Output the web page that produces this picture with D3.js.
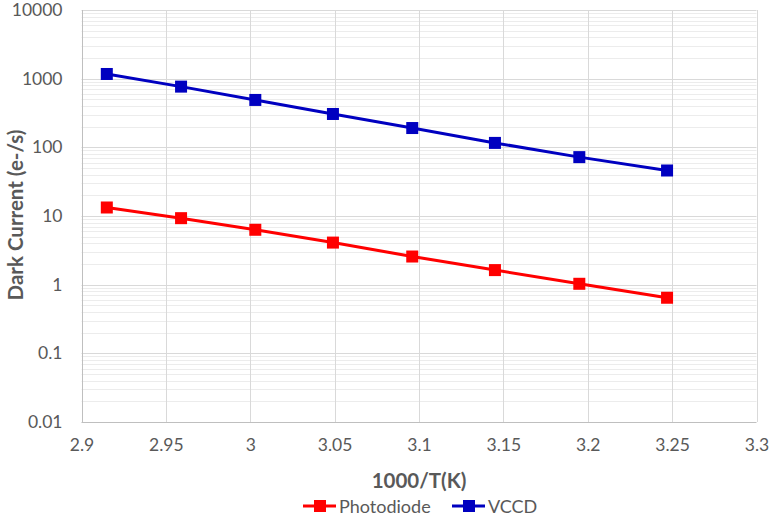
<!DOCTYPE html>
<html><head><meta charset="utf-8">
<script src="https://cdn.jsdelivr.net/npm/d3@7"></script>
<style>body{margin:0;background:#fff}svg{display:block}text{font-family:Lato,"Open Sans",sans-serif}</style>
</head><body><svg id="c" width="774" height="523"></svg>
<script>
const xValues = [2.915, 2.959, 3.003, 3.049, 3.096, 3.145, 3.195, 3.247];
const photodiode = [13.3, 9.3, 6.3, 4.1, 2.57, 1.63, 1.03, 0.645];
const vccd = [1170, 766, 490, 306, 191, 116, 72, 46];
const xTicks = [2.9, 2.95, 3, 3.05, 3.1, 3.15, 3.2, 3.25, 3.3];
const yTicks = [0.01, 0.1, 1, 10, 100, 1000, 10000];
const seriesNames = ["Photodiode", "VCCD"];
const seriesColors = ["#FF0000", "#0000C0"];

const svg = d3.select("#c");
const L = 81.5, R = 756.5, T = 10, B = 422;
const x = d3.scaleLinear().domain([2.9, 3.3]).range([L, R]);
const y = d3.scaleLog().domain([0.01, 10000]).range([B, T]);

// minor gridlines
const minors = [];
yTicks.slice(0, -1).forEach(d => { for (let k = 2; k <= 9; k++) minors.push(d * k); });
svg.append("g").selectAll("line").data(minors).join("line")
  .attr("x1", L).attr("x2", R).attr("y1", d => Math.round(y(d)) + 0.5).attr("y2", d => Math.round(y(d)) + 0.5)
  .attr("stroke", "#ececec").attr("stroke-width", 1);
// major gridlines
svg.append("g").selectAll("line").data(yTicks).join("line")
  .attr("x1", L).attr("x2", R).attr("y1", d => Math.round(y(d)) + 0.5).attr("y2", d => Math.round(y(d)) + 0.5)
  .attr("stroke", d => d === 0.01 ? "#bfbfbf" : "#d9d9d9").attr("stroke-width", 1);
svg.append("g").selectAll("line").data(xTicks).join("line")
  .attr("x1", d => Math.round(x(d)) + 0.5).attr("x2", d => Math.round(x(d)) + 0.5).attr("y1", T).attr("y2", B)
  .attr("stroke", d => d === 2.9 ? "#bfbfbf" : "#d9d9d9").attr("stroke-width", 1);

const tickFont = 17.5;
const ya = svg.append("g").attr("transform", `translate(${L},0)`)
  .call(d3.axisLeft(y).tickValues(yTicks).tickFormat(d => String(d)).tickSize(0).tickPadding(19));
ya.select(".domain").remove();
ya.selectAll("text").attr("font-size", tickFont).attr("fill", "#595959").style("font-family", "Lato, 'Open Sans', sans-serif");

const xa = svg.append("g").attr("transform", `translate(0,${B})`)
  .call(d3.axisBottom(x).tickValues(xTicks).tickFormat(d => String(d)).tickSize(0).tickPadding(17));
xa.select(".domain").remove();
xa.selectAll("text").attr("font-size", tickFont).attr("fill", "#595959").style("font-family", "Lato, 'Open Sans', sans-serif");

// titles
svg.append("text").attr("x", 419).attr("y", 488).attr("text-anchor", "middle")
  .attr("font-size", 20.5).attr("font-weight", "bold").attr("fill", "#595959").text("1000/T(K)");
svg.append("text").attr("transform", "translate(23,215) rotate(-90)").attr("text-anchor", "middle")
  .attr("font-size", 20.5).attr("font-weight", "bold").attr("fill", "#595959").text("Dark Current (e-/s)");

// series
const series = [photodiode, vccd];
const line = d3.line().x(d => x(d[0])).y(d => y(d[1]));
series.forEach((vals, i) => {
  const pts = xValues.map((xv, j) => [xv, vals[j]]);
  svg.append("path").datum(pts).attr("d", line).attr("fill", "none")
    .attr("stroke", seriesColors[i]).attr("stroke-width", 3);
  svg.append("g").selectAll("rect").data(pts).join("rect")
    .attr("x", d => x(d[0]) - 6).attr("y", d => y(d[1]) - 6).attr("width", 12).attr("height", 12)
    .attr("fill", seriesColors[i]);
});

// legend
const legX = [303, 452];
seriesNames.forEach((n, i) => {
  const g = svg.append("g").attr("transform", `translate(${legX[i]},506)`);
  g.append("line").attr("x1", 0).attr("x2", 33).attr("y1", 0).attr("y2", 0).attr("stroke", seriesColors[i]).attr("stroke-width", 3);
  g.append("rect").attr("x", 11).attr("y", -6).attr("width", 12).attr("height", 12).attr("fill", seriesColors[i]);
  g.append("text").attr("x", 36).attr("y", 6.5).attr("font-size", 18).attr("fill", "#595959").text(n);
});
</script></body></html>
